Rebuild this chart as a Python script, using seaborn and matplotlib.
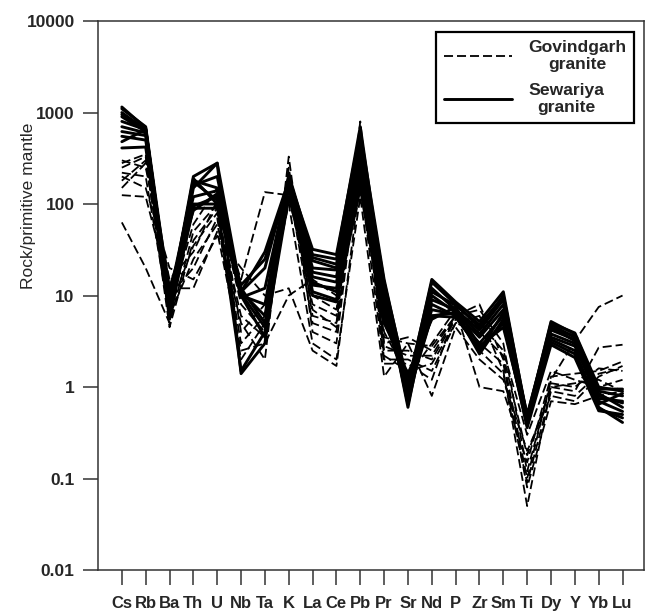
import numpy as np
import pandas as pd
import seaborn as sns
import matplotlib.pyplot as plt
from matplotlib.lines import Line2D

# element order along the spider diagram
elements = ['Cs', 'Rb', 'Ba', 'Th', 'U', 'Nb', 'Ta', 'K', 'La', 'Ce', 'Pb',
            'Pr', 'Sr', 'Nd', 'P', 'Zr', 'Sm', 'Ti', 'Dy', 'Y', 'Yb', 'Lu']

# Sewariya granite samples (solid lines), rock / primitive mantle
sew_1 = [1150, 680, 8, 200, 280, 11, 20, 190, 32, 28, 600, 15, 1.0, 15, 8.5, 5.2, 11, 0.45, 5.2, 3.8, 0.95, 0.95]
sew_2 = [1000, 650, 7, 180, 150, 10, 8, 200, 26, 22, 400, 12, 0.6, 12, 7, 4.2, 9, 0.42, 4.8, 3.5, 0.9, 0.8]
sew_3 = [900, 620, 6, 150, 280, 1.4, 3, 170, 20, 19, 300, 10, 0.7, 10, 6.5, 3.5, 7, 0.5, 4.5, 3.2, 0.8, 0.67]
sew_4 = [800, 650, 9, 120, 140, 12, 5, 150, 16, 14, 250, 9, 1.2, 8, 6, 3.0, 6, 0.4, 3.8, 3.0, 0.7, 0.54]
sew_5 = [700, 600, 5.5, 100, 100, 10, 3.5, 120, 13, 12, 200, 8, 0.8, 6, 5.8, 2.6, 5, 0.38, 3.3, 2.5, 0.6, 0.41]
sew_6 = [550, 500, 12, 85, 130, 9.5, 12, 180, 11, 9, 170, 6, 0.9, 6, 6.5, 2.3, 5.5, 0.36, 2.9, 2.1, 0.55, 0.5]
sew_7 = [480, 650, 7, 190, 100, 1.5, 4, 200, 24, 20, 500, 14, 1.1, 14, 8, 4.5, 10, 0.48, 5, 3.9, 1.0, 0.9]
sew_8 = [410, 420, 6.5, 90, 90, 13, 25, 160, 10, 8.5, 150, 5, 1.4, 5.5, 7.5, 2.8, 4.5, 0.42, 3.5, 2.8, 0.75, 0.7]
sew_9 = [1100, 700, 10, 160, 200, 11, 6, 210, 28, 25, 700, 11, 0.65, 9, 7, 3.8, 8, 0.46, 4.2, 3.3, 0.85, 0.6]
sew_10 = [950, 660, 8.5, 175, 110, 11, 30, 180, 18, 16, 350, 13, 0.9, 11, 7.8, 4.8, 9.5, 0.44, 4.4, 3.6, 0.65, 0.85]
sew_11 = [620, 560, 7.5, 95, 120, 10.5, 4.5, 165, 14, 11, 220, 7, 1.0, 7, 6.2, 2.5, 6.5, 0.4, 3.1, 2.3, 0.58, 0.46]

# Govindgarh granite samples (dashed lines)
gov_1 = [250, 330, 4.5, 40, 90, 15, 135, 125, 8, 6, 800, 3, 3.5, 2.5, 6, 8, 2, 0.1, 1.2, 3.2, 7.5, 10]
gov_2 = [220, 200, 6, 25, 60, 5, 2, 330, 4, 3, 400, 2, 2, 1.5, 5, 6, 1.5, 0.05, 1.0, 0.9, 2.7, 2.9]
gov_3 = [125, 120, 12, 12, 50, 2.5, 3, 10, 15, 10, 250, 4, 1.3, 3, 7, 1, 0.9, 0.15, 1.3, 1.4, 1.5, 1.9]
gov_4 = [63, 20, 5, 50, 100, 3, 6, 100, 3, 2, 120, 1.3, 3, 0.8, 4.5, 2, 1.2, 0.2, 0.8, 0.7, 1.3, 1.7]
gov_5 = [300, 250, 15, 30, 110, 8, 4, 250, 6, 5, 600, 2.5, 2.5, 2, 5.5, 5, 2.5, 0.3, 1.5, 1.2, 1.0, 1.2]
gov_6 = [200, 150, 20, 15, 45, 20, 10, 12, 2.5, 1.7, 180, 1.8, 1.8, 1.2, 6.5, 3, 1.8, 0.08, 0.7, 0.65, 0.8, 0.9]
gov_7 = [150, 280, 8, 60, 150, 4, 8, 150, 5, 4, 500, 3.5, 3, 2.8, 6, 7, 3, 0.12, 1.1, 1.0, 1.6, 1.5]
gov_8 = [280, 350, 10, 20, 70, 2, 5, 200, 10, 7, 300, 2.2, 1.5, 1.8, 5, 4, 2.2, 0.18, 1.0, 1.1, 1.2, 0.9]
gov_9 = [180, 300, 7, 35, 80, 6, 3.5, 180, 7, 4.5, 350, 2.8, 2.2, 2.2, 5.8, 2.5, 1.4, 0.09, 0.9, 0.8, 1.4, 1.6]

sewariya = [sew_1, sew_2, sew_3, sew_4, sew_5, sew_6, sew_7, sew_8, sew_9, sew_10, sew_11]
govindgarh = [gov_1, gov_2, gov_3, gov_4, gov_5, gov_6, gov_7, gov_8, gov_9]

# long table for seaborn
rows = []
for grp, samples in [('Govindgarh', govindgarh), ('Sewariya', sewariya)]:
    for k, vals in enumerate(samples):
        for i, v in enumerate(vals):
            rows.append({'group': grp, 'sample': f'{grp}_{k}', 'pos': i, 'value': v})
df = pd.DataFrame(rows)

sns.set_style('ticks')
plt.rcParams['font.family'] = ['Liberation Sans', 'DejaVu Sans']

fig = plt.figure(figsize=(6.46, 6.12), dpi=100)
ax = fig.add_axes([0.1517, 0.0686, 0.8452, 0.897])

sns.lineplot(data=df, x='pos', y='value', units='sample', estimator=None,
             style='group', dashes={'Govindgarh': (5, 2.2), 'Sewariya': ''},
             size='group', sizes={'Govindgarh': 1.3, 'Sewariya': 2.1},
             color='black', sort=False, legend=False, ax=ax)

ax.set_yscale('log')
ax.set_ylim(0.01, 10000)
ax.set_xlim(-1, 21.9)
ax.set_yticks([0.01, 0.1, 1, 10, 100, 1000, 10000])
ax.set_yticklabels(['0.01', '0.1', '1', '10', '100', '1000', '10000'])
ax.yaxis.set_minor_locator(plt.NullLocator())
ax.set_xticks(range(len(elements)))
ax.set_xticklabels(elements)

for lab in ax.get_xticklabels():
    lab.set_fontweight('bold')
    lab.set_fontsize(12)
for lab in ax.get_yticklabels():
    lab.set_fontweight('bold')
    lab.set_fontsize(12.5)

ax.tick_params(axis='both', direction='out', length=10.8, width=1.1, color='#333333')
ax.tick_params(axis='y', pad=6)
ax.tick_params(axis='x', pad=8)
for sp in ax.spines.values():
    sp.set_color('#333333')
    sp.set_linewidth(1.1)

ax.set_xlabel('')
ax.set_ylabel('Rock/primitive mantle', fontsize=12.5)
ax.yaxis.set_label_coords(-0.113, 0.664)

handles = [Line2D([], [], color='black', lw=1.3, dashes=(5, 2.2)),
           Line2D([], [], color='black', lw=2.1)]
leg = ax.legend(handles, ['Govindgarh\ngranite', 'Sewariya\ngranite'],
                loc='upper right', bbox_to_anchor=(0.982, 0.98), borderaxespad=0,
                fancybox=False, framealpha=1, edgecolor='black',
                handlelength=3.9, handletextpad=0.9, labelspacing=0.6,
                borderpad=0.45, prop={'weight': 'bold', 'size': 12.6})
leg.get_frame().set_linewidth(1.6)
for t in leg.get_texts():
    t.set_multialignment('center')

fig.savefig('out.png', dpi=100)
